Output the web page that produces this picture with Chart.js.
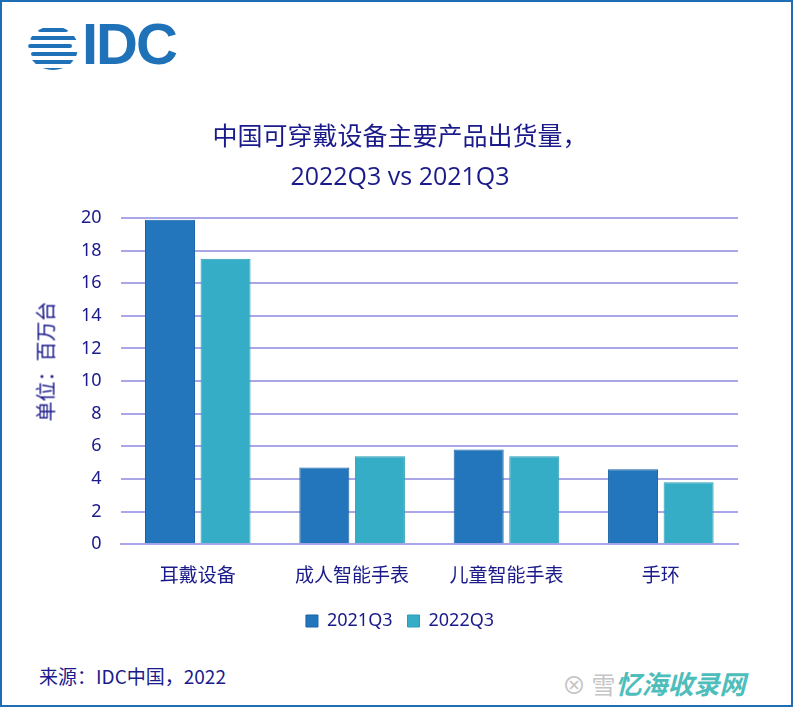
<!DOCTYPE html>
<html>
<head>
<meta charset="utf-8">
<script src="https://cdn.jsdelivr.net/npm/chart.js@4.4.0/dist/chart.umd.min.js"></script>
<style>
  body { margin: 0; background: #fff; }
  #frame {
    position: relative; width: 793px; height: 707px; box-sizing: border-box;
    border: 2px solid #1f6db4; background: #fff; overflow: hidden;
    font-family: "Noto Sans", "Noto Sans CJK SC", sans-serif;
  }
  #logo { position: absolute; left: 26px; top: 22px; height: 48px; }
  #globe { position: absolute; left: 0; top: 2px; width: 50px; height: 44px; border-radius: 50%; overflow: hidden; }
  #globe div { position: absolute; height: 4px; background: #1f72b8; border-radius: 2px; }
  #logoText { position: absolute; left: 54px; top: -14px; font: 700 58px "Liberation Sans", Arial, sans-serif; color: #1f72b8; letter-spacing: -2px; }
  #chartBox { position: absolute; left: 0; top: 100px; width: 789px; height: 538px; }
  #yTitle {
    position: absolute; left: -27px; top: 345px; width: 140px; text-align: center;
    font: 20px "Noto Sans CJK SC", sans-serif; color: #1a1a8a; transform: rotate(-90deg);
  }
  #source { position: absolute; left: 37px; top: 660px; font: 19px "Noto Sans CJK SC", sans-serif; color: #1a1a8a; }
  #wm { position: absolute; left: 560px; top: 662px; font: italic 700 26px "Noto Sans CJK SC", sans-serif; color: #2fb3b0; opacity: 0.85; }
  #wm span { color: #bbb; font-weight: 400; font-style: normal; font-size: 24px; }
</style>
</head>
<body>
<div id="frame">
  <div id="logo">
    <div id="globe"></div>
    <div id="logoText">IDC</div>
  </div>
  <div id="chartBox"><canvas id="chart"></canvas></div>
  <div id="yTitle">单位：百万台</div>
  <div id="source">来源：IDC中国，2022</div>
  <div id="wm"><span>⊗ 雪</span>忆海收录网</div>
</div>
<script>
// Chart data //
const categories = ['耳戴设备', '成人智能手表', '儿童智能手表', '手环'];
const q3_2021 = [19.9, 4.7, 5.8, 4.6];
const q3_2022 = [17.5, 5.4, 5.4, 3.8];
const yTicks = [0, 2, 4, 6, 8, 10, 12, 14, 16, 18, 20];

const navy = '#1a1a8a';

// globe stripes for the logo
const globe = document.getElementById('globe');
[[2, 10, 30], [10, 2, 48], [18, 0, 44], [26, 3, 47], [34, 2, 44], [42, 12, 26]].forEach(s => {
    const d = document.createElement('div');
    d.style.top = s[0] + 'px';
    d.style.left = s[1] + 'px';
    d.style.width = s[2] + 'px';
    globe.appendChild(d);
});

function renderChart() {
    const ctx = document.getElementById('chart').getContext('2d');
    new Chart(ctx, {
        type: 'bar',
        data: {
            labels: categories,
            datasets: [{
                label: '2021Q3',
                data: q3_2021,
                backgroundColor: '#2376bb',
                borderColor: '#1a62a6',
                borderWidth: 1,
                categoryPercentage: 0.72,
                barPercentage: 0.9
            }, {
                label: '2022Q3',
                data: q3_2022,
                backgroundColor: '#36adc7',
                borderColor: '#2a9db6',
                borderWidth: 1,
                categoryPercentage: 0.72,
                barPercentage: 0.9
            }]
        },
        options: {
            responsive: true,
            maintainAspectRatio: false,
            animation: false,
            layout: { padding: { left: 60, right: 53, top: 0, bottom: 0 } },
            plugins: {
                title: {
                    display: true,
                    text: ['中国可穿戴设备主要产品出货量，', '2022Q3 vs 2021Q3'],
                    color: navy,
                    font: { family: '"Open Sans", "Noto Sans CJK SC", sans-serif', size: 25, weight: 'normal', lineHeight: 1.6 },
                    padding: { top: 16, bottom: 20 }
                },
                legend: {
                    position: 'bottom',
                    labels: {
                        color: navy,
                        font: { family: '"Noto Sans", sans-serif', size: 18 },
                        boxWidth: 12, boxHeight: 12, padding: 15
                    }
                },
                tooltip: { enabled: false }
            },
            scales: {
                x: {
                    grid: { display: false },
                    border: { color: '#aaa7e8', width: 2 },
                    ticks: { color: navy, font: { family: '"Noto Sans CJK SC", sans-serif', size: 19 }, padding: 11 }
                },
                y: {
                    min: 0, max: 20,
                    afterBuildTicks: axis => { axis.ticks = yTicks.map(v => ({ value: v })); },
                    grid: { color: '#aaa7e8', lineWidth: 2, drawTicks: false },
                    border: { display: false },
                    ticks: { color: navy, font: { family: '"Noto Sans", sans-serif', size: 18 }, padding: 19 }
                }
            }
        }
    });
}

document.addEventListener('DOMContentLoaded', renderChart);
</script>
</body>
</html>
